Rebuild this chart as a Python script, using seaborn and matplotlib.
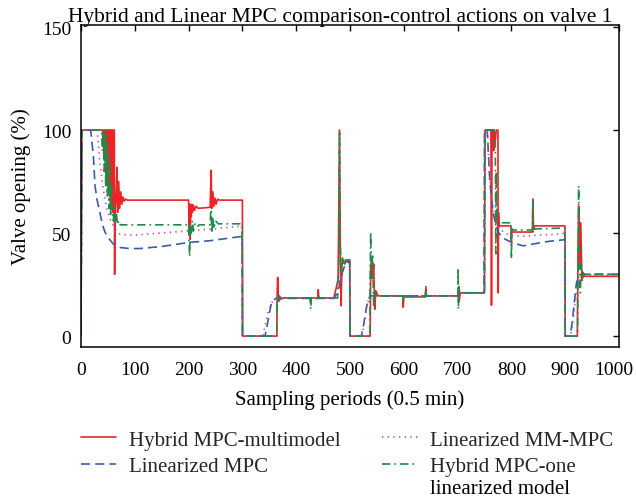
import matplotlib
matplotlib.use("Agg")
import matplotlib.pyplot as plt
import matplotlib.transforms as mtransforms
import seaborn as sns
import pandas as pd

# ---------------- data ----------------
series_names = ["Hybrid MPC-multimodel", "Linearized MPC",
                "Linearized MM-MPC", "Hybrid MPC-one\nlinearized model"]

red_x = [0, 1.5, 40, 41, 42, 43, 44, 45, 46, 47, 48, 49, 50, 51, 52, 53, 54, 55, 56, 57, 58, 59, 60, 62,
         62.5, 63, 65, 67, 68, 70, 72, 74, 76, 78, 80, 83, 86, 200, 201, 202, 203, 204, 205, 206, 207, 209,
         211, 214, 218, 240, 241, 242, 243, 245, 247, 249, 251, 254, 257, 300, 300.5, 364, 364.5, 365.5,
         367, 369, 372, 376, 426, 427, 428, 440, 441, 442, 470, 472, 475, 478, 480.5, 482, 483.5, 485,
         488, 490, 495, 499.5, 500, 537.5, 538.5, 540, 542, 544, 546, 548, 552, 598, 599, 600, 640, 641,
         642, 702, 702.5, 703, 705, 708, 750, 751, 762, 763, 764, 766, 767, 768, 770, 772, 775, 775.5,
         776, 777, 799, 800, 801, 839, 840, 841, 843, 899.5, 900, 922.5, 924, 925, 927, 929, 931, 933,
         936, 1000]
red_y = [0, 100, 100, 92, 100, 88, 100, 85, 100, 80, 100, 76, 100, 72, 100, 68, 100, 66, 100, 62, 100, 60, 100, 100,
         30, 60, 66, 82, 60, 75, 62, 70, 64, 67.5, 65.5, 66.5, 66, 66, 50, 64, 47, 62, 58, 64, 60, 63.5,
         61, 63, 62, 62.5, 72, 80.5, 62, 70, 63, 67, 64, 66.5, 66, 66, 0, 0, 19, 28.5,
         17, 19.5, 18, 18.5, 18.5, 16, 18.5, 18.5, 22.5, 18.5, 18.5, 21, 24, 28, 100, 35, 14.7, 35,
         37, 35, 37, 37, 0, 0, 35, 31, 28, 35, 13, 22, 19.5, 19.5, 14, 19, 19, 23,
         19.5, 19.5, 23, 17, 21, 21, 21, 100, 100, 15, 100, 100, 90, 100, 95, 100, 100, 21,
         60, 53.5, 53.5, 46, 50.5, 50.5, 66.5, 52, 53.5, 53.5, 0, 0, 45, 63, 35, 55, 27, 31,
         29, 29]

blue_x = [0, 1.5, 18, 20, 23, 26, 30, 35, 40, 44.6, 50, 60, 72.5, 90, 110, 150, 202, 240, 299.5, 300,
          342, 346, 350, 354, 358, 362, 470, 474, 478, 482, 486, 490, 495, 499.5, 500, 521, 525, 531,
          537, 700, 702, 749, 750, 755, 760, 766, 770, 775.6, 785, 800, 822, 840, 870, 896, 899.5, 900,
          909, 912, 916, 921, 927, 935, 1000]
blue_y = [0, 100, 100, 95, 87.5, 73, 66, 60, 54, 50.5, 48, 44.7, 43, 42.5, 42.5, 43.5, 45.5, 46.3, 48.4, 0,
          0, 5, 11, 16, 17.5, 18.3, 18.3, 20, 22, 27, 31, 34, 35.5, 36.5, 0, 0, 5, 14.7,
          19.5, 19.5, 21, 21, 100, 100, 74.6, 60, 55, 50.3, 47.5, 45.5, 43.8, 44.7, 46, 46.7, 47, 0,
          0, 5, 14, 26, 29.5, 30, 30]

mag_x = [0, 1.5, 30, 35, 41.5, 47.7, 54, 60, 66, 72.5, 90, 110, 147, 196, 246, 299.5, 300, 338, 343,
         348, 354, 360, 366, 470, 476, 482, 488, 494, 499.5, 500, 522, 526, 530, 534, 538, 700, 702,
         749, 750, 755, 758, 762, 767, 772, 778, 786, 797, 828, 847, 890, 899.5, 900, 910, 914, 918,
         922, 926, 931, 1000]
mag_y = [0, 100, 100, 84, 71, 61.7, 57, 53.5, 51, 49.5, 49, 49.2, 50, 51, 52, 53.5, 0, 0, 6,
         12, 16, 18, 18.5, 18.5, 22, 28, 33, 35, 36.5, 0, 0, 5, 12, 17, 19.5, 19.5, 21,
         21, 100, 100, 85, 70, 60, 55, 52, 50.5, 48.7, 48.5, 49, 49.5, 50, 0, 0, 6, 15,
         23, 28, 29.5, 29.5]

grn_x = [0, 1.5, 38, 40, 41, 43, 44, 46, 47, 49, 50, 52, 53, 55, 56, 58, 60, 62, 64, 66, 68, 70, 73,
         200, 201, 202, 203, 205, 207, 209, 212, 216, 220, 240, 241, 242, 243, 245, 247, 250, 255,
         299.5, 300, 364, 364.5, 366, 368, 372, 426, 427, 428, 440, 441, 442, 477, 479, 480.5, 482,
         484, 486, 489, 492, 496, 499.5, 500, 537, 537.5, 538.5, 540, 542, 544, 546, 550, 598, 599,
         600, 640, 641, 642, 700.5, 701, 701.5, 702.5, 704, 708, 750, 751, 770, 771, 772, 773, 775,
         799, 800, 801, 803, 839, 840, 841, 843, 899.5, 900, 923, 924, 925, 926, 928, 930, 932, 935,
         1000]
grn_y = [0, 100, 100, 90, 100, 80, 100, 72, 98, 68, 92, 62, 85, 58, 75, 63, 56, 62, 55, 59, 54, 56, 54,
         54, 44, 38.5, 55, 50, 56, 51, 54.5, 53, 54, 54, 60, 61.5, 50, 58, 52, 56, 54.5,
         54.5, 0, 0, 18.5, 20, 17, 18.5, 18.5, 13, 18.5, 18.5, 20, 18.5, 18.5, 40, 100, 45,
         30, 38, 34, 37, 36, 36.5, 0, 0, 30, 50.5, 28, 40, 14, 22, 19.5, 19.5, 16,
         19.5, 19.5, 24, 19.5, 19.5, 33, 13, 24, 20.5, 21, 21, 100, 100, 40, 80, 60, 55,
         55, 37.5, 52, 51.5, 51.5, 66, 50, 52, 52.5, 0, 0, 40, 73, 45, 21, 35, 28, 30,
         30]

x_ticks = [0, 100, 200, 300, 400, 500, 600, 700, 800, 900, 1000]
y_ticks = [0, 50, 100, 150]

# ---------------- build long table ----------------
frames = []
for name, xs, ys in zip(series_names, [red_x, blue_x, mag_x, grn_x], [red_y, blue_y, mag_y, grn_y]):
    frames.append(pd.DataFrame({"x": xs, "y": ys, "series": name}))
df = pd.concat(frames, ignore_index=True)

# ---------------- styling ----------------
sns.set_theme(style="white")
plt.rcParams["font.family"] = ["Liberation Serif", "DejaVu Serif"]

FS_TICK = 14
FS = 15
palette = {series_names[0]: "#ec2327", series_names[1]: "#3b5ba9",
           series_names[2]: "#b24fae", series_names[3]: "#1f8a4a"}
dashes = {series_names[0]: "", series_names[1]: (5.5, 3.0),
          series_names[2]: (0.8, 2.6), series_names[3]: (5.0, 2.4, 1.0, 2.4)}

fig = plt.figure(figsize=(6.36, 5.02), dpi=100)
ax = fig.add_axes([81 / 636, 1 - 348 / 502, (619 - 81) / 636, (348 - 26) / 502])

sns.lineplot(data=df, x="x", y="y", hue="series", style="series",
             hue_order=series_names, style_order=series_names,
             palette=palette, dashes=dashes, estimator=None, sort=False,
             units="series", linewidth=1.2, legend=False, ax=ax)

ax.set_xlim(0, 1000)
ax.set_ylim(-5.3, 151)
ax.set_xticks(x_ticks)
ax.set_yticks(y_ticks)
ax.tick_params(direction="in", length=4, width=1, top=True, right=True,
               labelsize=FS_TICK, colors="black")
ax.tick_params(axis="x", pad=10)
ax.tick_params(axis="y", pad=7)
for s in ax.spines.values():
    s.set_color("black")
    s.set_linewidth(1.1)

ax.set_xlabel("Sampling periods (0.5 min)", fontsize=FS, labelpad=8, color="black")
ax.set_ylabel("Valve opening (%)", fontsize=FS, labelpad=8, color="black")
ax.set_title("Hybrid and Linear MPC comparison-control actions on valve 1",
             fontsize=15.5, x=0.481, pad=3, color="black")

# legend below the plot
handles = ax.get_lines()[:4]
leg_labels = ["Hybrid MPC-multimodel", "Linearized MPC", "Linearized MM-MPC", "Hybrid MPC-one"]
leg = fig.legend(handles, leg_labels, loc="upper left", bbox_to_anchor=(81 / 636, 1 - 431 / 502),
                 ncol=2, frameon=False, fontsize=FS, handlelength=1.7, handletextpad=0.6,
                 columnspacing=2.0, labelspacing=0.35, borderpad=0, borderaxespad=0)

fig.canvas.draw()
# nudge the last x tick label slightly left so it stays inside the figure (as in the reference)
last_lbl = ax.get_xticklabels()[-1]
last_lbl.set_transform(last_lbl.get_transform() +
                       mtransforms.ScaledTranslation(-5 / 100, 0, fig.dpi_scale_trans))

t = leg.get_texts()[3]
bb = t.get_window_extent()
inv = fig.transFigure.inverted()
x0, y0 = inv.transform((bb.x0, bb.y0))
line_h = (bb.y1 - bb.y0) / fig.bbox.height
fig.text(x0, y0 - line_h * 0.15, "linearized model", fontsize=FS, ha="left", va="top", color="black")

fig.savefig("out.png", dpi=100)
